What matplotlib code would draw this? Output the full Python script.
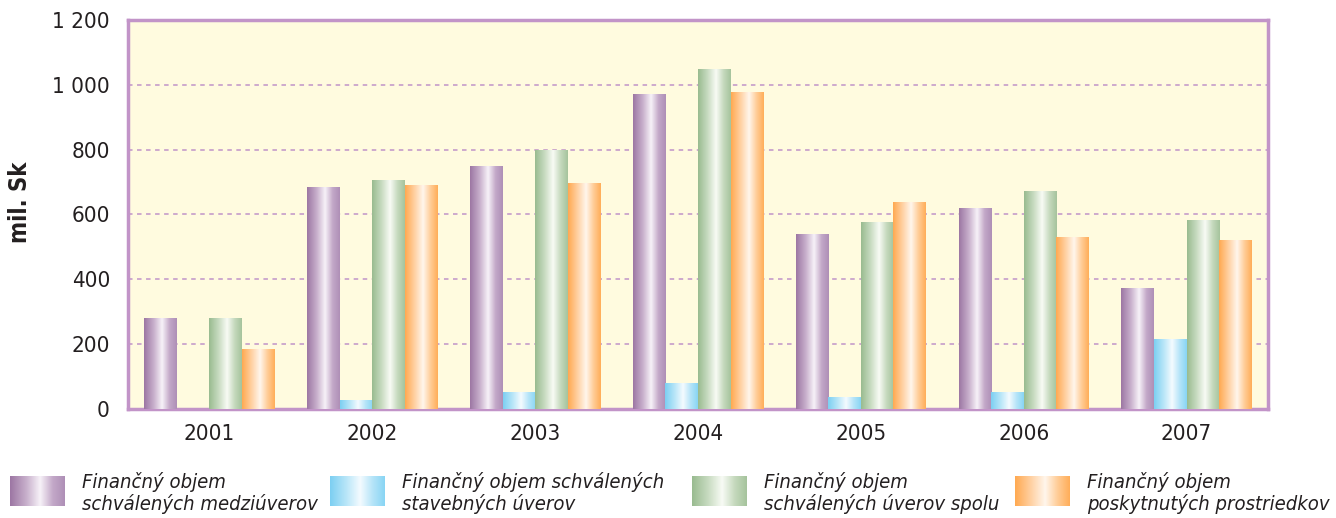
import numpy as np
import matplotlib
matplotlib.use("Agg")
import matplotlib.pyplot as plt
from matplotlib.colors import LinearSegmentedColormap

years = ["2001", "2002", "2003", "2004", "2005", "2006", "2007"]
medziuvery = [278, 682, 747, 969, 537, 620, 373]
stavebne = [0, 25, 52, 80, 37, 52, 213]
spolu = [278, 704, 796, 1046, 574, 670, 583]
poskytnute = [185, 688, 697, 975, 636, 528, 519]

series_labels = [
    "Finančný objem\nschválených medziúverov",
    "Finančný objem schválených\nstavebných úverov",
    "Finančný objem\nschválených úverov spolu",
    "Finančný objem\nposkytnutých prostriedkov",
]
yticks = [0, 200, 400, 600, 800, 1000, 1200]
ytick_labels = ["0", "200", "400", "600", "800", "1 000", "1 200"]

plt.rcParams["font.family"] = ["DejaVu Sans"]
plt.rcParams["font.stretch"] = "condensed"

grad_colors = [
    ["#9c76a3", "#c8b0cc", "#f7f2f8", "#c3a8c8", "#ae8fb6"],
    ["#7ccff2", "#b9e6f8", "#f4fbff", "#b5e4f8", "#88d5f4"],
    ["#98bb8f", "#c9dcc2", "#f8fbf5", "#c5d9bd", "#a5c39c"],
    ["#ffa950", "#ffd2a5", "#fff6ec", "#ffcc96", "#ffad58"],
]
stops = [0.0, 0.3, 0.55, 0.78, 1.0]
cmaps = [LinearSegmentedColormap.from_list("c%d" % i, list(zip(stops, c))) for i, c in enumerate(grad_colors)]
grad = np.linspace(0, 1, 256).reshape(1, -1)

fig = plt.figure(figsize=(13.36, 5.18), dpi=100)
ax = fig.add_axes([128 / 1336, 1 - 409 / 518, 1140 / 1336, 389 / 518])
ax.set_facecolor("#fffbdf")

x = np.arange(len(years))
w = 0.2
data = [medziuvery, stavebne, spolu, poskytnute]
for i, vals in enumerate(data):
    bars = ax.bar(x + (i - 1.5) * w, vals, width=w, color="none", edgecolor="none", zorder=3)
    for b in bars:
        h = b.get_height()
        if h <= 0:
            continue
        ax.imshow(grad, cmap=cmaps[i], aspect="auto", interpolation="bilinear",
                  extent=(b.get_x(), b.get_x() + b.get_width(), 0, h), zorder=3)

ax.set_xlim(-0.5, len(years) - 0.5)
ax.set_ylim(0, 1200)
ax.set_yticks(yticks)
ax.set_yticklabels(ytick_labels)
ax.set_xticks(x)
ax.set_xticklabels(years)
ax.tick_params(axis="both", length=0, labelsize=16, colors="#231f20")
ax.tick_params(axis="y", pad=13)
ax.tick_params(axis="x", pad=11)
for yv in yticks[1:-1]:
    ax.axhline(yv, color="#c9a3cc", lw=1.3, ls=(0, (2.5, 2.5)), zorder=2)
for s in ax.spines.values():
    s.set_color("#c294c8")
    s.set_linewidth(2.5)
ax.set_ylabel("mil. Sk", fontsize=17, fontweight="bold", color="#231f20")
ax.yaxis.set_label_coords(-(128 - 32) / 1140, (409 - 202) / 389)

# legend
leg_x = [10, 330, 692, 1015]
for i, lx in enumerate(leg_x):
    lax = fig.add_axes([lx / 1336, 1 - 506 / 518, 55 / 1336, 30 / 518])
    lax.imshow(grad, cmap=cmaps[i], aspect="auto", interpolation="bilinear")
    lax.axis("off")
    fig.text((lx + 72) / 1336, 1 - 472 / 518, series_labels[i], fontsize=14.5, style="italic",
             va="top", ha="left", color="#231f20", linespacing=1.1)

fig.savefig("out.png", dpi=100)
